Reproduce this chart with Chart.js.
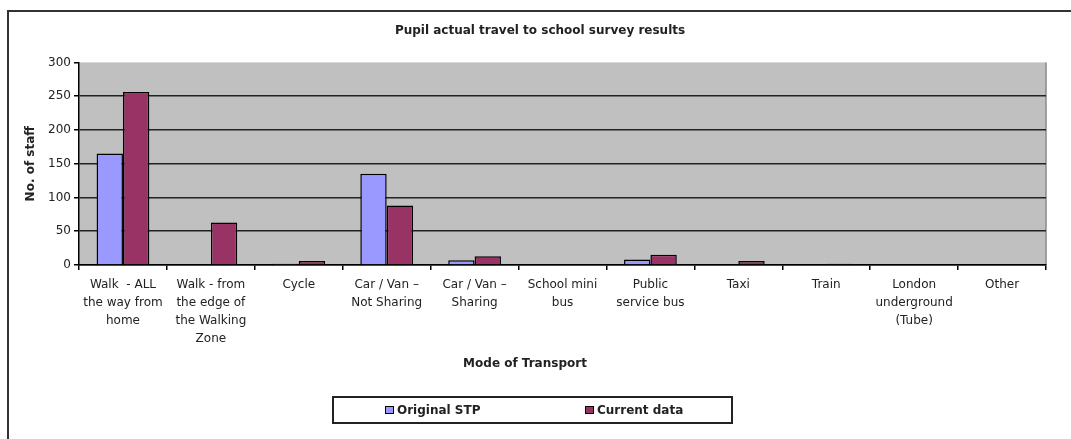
<!DOCTYPE html>
<html>
<head>
<meta charset="utf-8">
<script src="https://cdn.jsdelivr.net/npm/chart.js@4.4.1/dist/chart.umd.min.js"></script>
<style>
  html, body { margin: 0; padding: 0; background: #fff; }
  #wrap { width: 1071px; height: 439px; }
</style>
</head>
<body>
<div id="wrap"><canvas id="cv" width="1071" height="439"></canvas></div>
<script>
// --- data ---
const modes = [
  ['Walk  - ALL', 'the way from', 'home'],
  ['Walk - from', 'the edge of', 'the Walking', 'Zone'],
  ['Cycle'],
  ['Car / Van \u2013', 'Not Sharing'],
  ['Car / Van \u2013', 'Sharing'],
  ['School mini', 'bus'],
  ['Public', 'service bus'],
  ['Taxi'],
  ['Train'],
  ['London', 'underground', '(Tube)'],
  ['Other']
];
const originalSTP = [165, 0, 2, 135, 7, 0, 8, 0, 0, 0, 0];
const currentData = [256, 63, 6, 88, 13, 0, 15, 6, 2, 0, 0];
const yTicks = [0, 50, 100, 150, 200, 250, 300];

const FONT = '"DejaVu Sans", Verdana, sans-serif';
const INK = '#222';

// frame, grey plot area, x title and boxed legend
const decor = {
  id: 'decor',
  beforeDraw(chart) {
    const { ctx, chartArea: a } = chart;
    ctx.save();
    ctx.fillStyle = '#fff';
    ctx.fillRect(0, 0, chart.width, chart.height);
    ctx.strokeStyle = '#333';
    ctx.lineWidth = 2;
    ctx.strokeRect(8, 11, 2000, 2000);
    ctx.fillStyle = '#c0c0c0';
    ctx.fillRect(a.left, a.top, a.right - a.left, a.bottom - a.top);
    ctx.strokeStyle = '#8a8a8a';
    ctx.lineWidth = 1.5;
    ctx.beginPath();
    ctx.moveTo(a.right, a.top);
    ctx.lineTo(a.right, a.bottom);
    ctx.stroke();
    ctx.restore();
  },
  afterDraw(chart) {
    const { ctx } = chart;
    ctx.save();
    ctx.fillStyle = INK;
    ctx.font = 'bold 12px ' + FONT;
    ctx.textAlign = 'center';
    ctx.textBaseline = 'middle';
    ctx.fillText('Mode of Transport', 525, 364);

    // legend box
    ctx.fillStyle = '#fff';
    ctx.fillRect(333, 397, 399, 26);
    ctx.strokeStyle = '#222';
    ctx.lineWidth = 2;
    ctx.strokeRect(333, 397, 399, 26);
    const xs = [385, 585];
    chart.data.datasets.forEach((ds, i) => {
      ctx.fillStyle = ds.backgroundColor;
      ctx.fillRect(xs[i], 406, 8, 8);
      ctx.strokeStyle = '#000';
      ctx.lineWidth = 1;
      ctx.strokeRect(xs[i] + 0.5, 406.5, 8, 7);
      ctx.fillStyle = INK;
      ctx.textAlign = 'left';
      ctx.fillText(ds.label, xs[i] + 12, 410.5);
    });
    ctx.restore();
  }
};

new Chart(document.getElementById('cv').getContext('2d'), {
  type: 'bar',
  data: {
    labels: modes,
    datasets: [
      { label: 'Original STP', data: originalSTP, backgroundColor: '#9999ff', borderColor: '#000', borderWidth: 1.5 },
      { label: 'Current data', data: currentData, backgroundColor: '#993366', borderColor: '#000', borderWidth: 1.5 }
    ]
  },
  options: {
    responsive: false,
    animation: false,
    layout: { padding: { left: 34, right: 25, top: 0, bottom: 67 } },
    datasets: { bar: { categoryPercentage: 0.6, barPercentage: 1 } },
    plugins: {
      legend: { display: false },
      tooltip: { enabled: false },
      title: {
        display: true,
        text: 'Pupil actual travel to school survey results',
        color: INK,
        font: { family: FONT, size: 12, weight: 'bold' },
        padding: { top: 24, bottom: 24 }
      }
    },
    scales: {
      x: {
        afterFit: s => { s.height = 107; },
        grid: { drawOnChartArea: false, drawTicks: true, tickLength: 5, color: '#000', lineWidth: 1.5 },
        border: { color: '#000', width: 1.5 },
        ticks: {
          color: INK,
          autoSkip: false,
          maxRotation: 0,
          padding: 6,
          font: { family: FONT, size: 12, lineHeight: 1.5 }
        }
      },
      y: {
        min: 0,
        max: 300,
        afterFit: s => { s.width = 45; },
        afterBuildTicks: s => { s.ticks = yTicks.map(v => ({ value: v })); },
        grid: {
          color: c => (c.tick && c.tick.value === 300) ? 'rgba(0,0,0,0)' : '#222',
          lineWidth: 1.5,
          tickLength: 5,
          tickColor: '#000'
        },
        border: { color: '#000', width: 1.5 },
        ticks: { color: INK, padding: 3, font: { family: FONT, size: 12 } },
        title: {
          display: true,
          text: 'No. of staff',
          color: INK,
          font: { family: FONT, size: 12, weight: 'bold' },
          padding: { top: -10, bottom: 0 }
        }
      }
    }
  },
  plugins: [decor]
});
</script>
</body>
</html>
